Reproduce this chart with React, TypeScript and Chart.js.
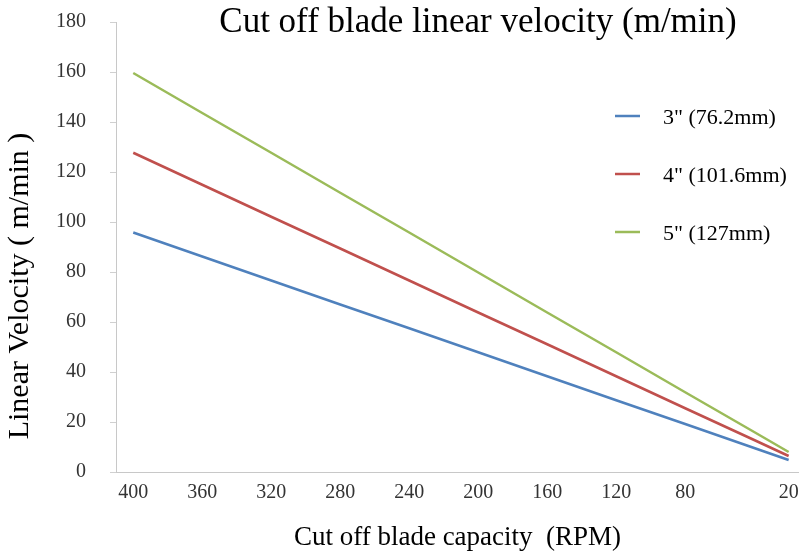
import React, { useEffect, useRef } from 'react';
import { Chart, registerables } from 'chart.js';

Chart.register(...registerables);

// ---- Data ----
const rpm = [400, 360, 320, 280, 240, 200, 160, 120, 80, 40, 20];
const blade3 = [95.8, 86.2, 76.6, 67.0, 57.5, 47.9, 38.3, 28.7, 19.2, 9.6, 4.8];
const blade4 = [127.7, 114.9, 102.1, 89.4, 76.6, 63.8, 51.1, 38.3, 25.5, 12.8, 6.4];
const blade5 = [159.6, 143.6, 127.7, 111.7, 95.8, 79.8, 63.8, 47.9, 31.9, 16.0, 8.0];
const seriesLabels = ['3" (76.2mm)', '4" (101.6mm)', '5" (127mm)'];
const seriesColors = ['#4F81BD', '#C0504D', '#9BBB59'];
const xTickValues = [400, 360, 320, 280, 240, 200, 160, 120, 80, 20];
const yTickValues = [0, 20, 40, 60, 80, 100, 120, 140, 160, 180];
const titleText = 'Cut off blade linear velocity (m/min)';
const xTitleText = 'Cut off blade capacity  (RPM)';
const yTitleText = 'Linear Velocity ( m/min )';

const FONT = "'Liberation Serif', 'DejaVu Serif', serif";

const overlayPlugin = {
  id: 'overlayTexts',
  afterDraw(chart: any) {
    const ctx = chart.ctx;
    ctx.save();
    // main title
    ctx.fillStyle = '#000';
    ctx.font = `35px ${FONT}`;
    ctx.textAlign = 'center';
    ctx.textBaseline = 'alphabetic';
    ctx.fillText(titleText, 478, 32);

    // y axis title
    ctx.save();
    ctx.translate(28, 286);
    ctx.rotate(-Math.PI / 2);
    ctx.font = `30px ${FONT}`;
    ctx.textAlign = 'center';
    ctx.fillText(yTitleText, 0, 0);
    ctx.restore();

    // legend
    chart.data.datasets.forEach((ds: any, i: number) => {
      const y = 116 + i * 58;
      ctx.strokeStyle = ds.borderColor;
      ctx.lineWidth = 2.5;
      ctx.beginPath();
      ctx.moveTo(615, y);
      ctx.lineTo(640, y);
      ctx.stroke();
      ctx.fillStyle = '#000';
      ctx.textAlign = 'left';
      ctx.font = `22px ${FONT}`;
      ctx.fillText(ds.label, 663, y + 8);
    });
    ctx.restore();
  },
};

export default function App() {
  const canvasRef = useRef<HTMLCanvasElement | null>(null);

  useEffect(() => {
    if (!canvasRef.current) return;
    const series = [blade3, blade4, blade5];
    const chart = new Chart(canvasRef.current, {
      type: 'line',
      data: {
        datasets: series.map((vals, i) => ({
          label: seriesLabels[i],
          data: rpm.map((x, j) => ({ x, y: vals[j] })),
          borderColor: seriesColors[i],
          backgroundColor: seriesColors[i],
          borderWidth: 2.5,
          pointRadius: 0,
          tension: 0,
          fill: false,
        })),
      },
      options: {
        responsive: false,
        animation: false,
        layout: { padding: { top: 22, left: 0, right: 0, bottom: 0 } },
        plugins: {
          legend: { display: false },
          title: { display: false },
          tooltip: { enabled: false },
        },
        scales: {
          x: {
            type: 'linear',
            reverse: true,
            min: 14,
            max: 410,
            afterFit: (s: any) => {
              s.height = 84;
              s.paddingLeft = 0;
              s.paddingRight = 0;
            },
            afterBuildTicks: (s: any) => {
              s.ticks = xTickValues.map((v) => ({ value: v }));
            },
            grid: { drawOnChartArea: false, drawTicks: false, color: '#d0d0d0' },
            border: { display: true, color: '#c8c8c8', width: 1 },
            ticks: {
              autoSkip: false,
              maxRotation: 0,
              padding: 9,
              color: '#333',
              font: { family: FONT, size: 20 },
              callback: (v: any) => String(v),
            },
            title: {
              display: true,
              text: xTitleText,
              color: '#000',
              font: { family: FONT, size: 27 },
              padding: { top: 0, bottom: 2 },
            },
          },
          y: {
            min: 0,
            max: 180,
            afterFit: (s: any) => {
              s.width = 116;
              s.paddingTop = 0;
              s.paddingBottom = 0;
            },
            afterBuildTicks: (s: any) => {
              s.ticks = yTickValues.map((v) => ({ value: v }));
            },
            grid: { drawOnChartArea: false, drawTicks: true, tickLength: 6, color: '#d0d0d0' },
            border: { display: true, color: '#c8c8c8', width: 1 },
            ticks: {
              padding: 24,
              color: '#333',
              font: { family: FONT, size: 20 },
            },
          },
        },
      },
      plugins: [overlayPlugin],
    });
    return () => chart.destroy();
  }, []);

  return (
    <div style={{ position: 'fixed', left: 0, top: 0, width: 799, height: 556, background: '#fff' }}>
      <canvas ref={canvasRef} width={799} height={556} style={{ width: 799, height: 556 }} />
    </div>
  );
}
